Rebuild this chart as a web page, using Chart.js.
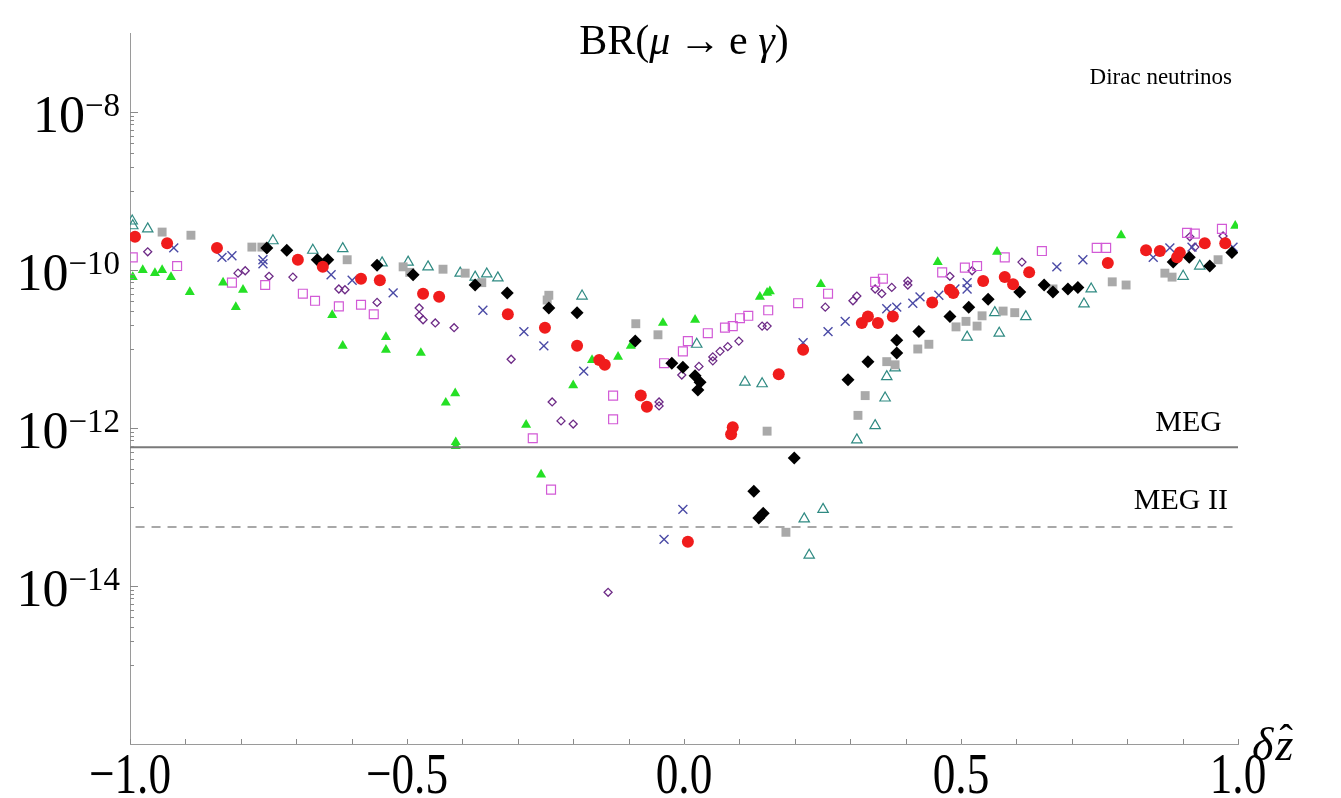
<!DOCTYPE html>
<html>
<head>
<meta charset="utf-8">
<script src="https://cdn.jsdelivr.net/npm/chart.js@4.4.1/dist/chart.umd.min.js"></script>
<style>
    html, body { margin: 0; padding: 0; background: #fff; }
</style>
</head>
<body>
<canvas id="grafico" width="1341" height="798"></canvas>
<script>
const ctx = document.getElementById('grafico');

// x = delta z hat, y = log10 BR(mu -> e gamma)
const redX = [-0.991,-0.933,-0.843,-0.697,-0.652,-0.583,-0.549,-0.471,-0.442,-0.318,-0.251,-0.193,-0.153,-0.143,-0.078,-0.067,0.007,0.085,0.088,0.171,0.215,0.321,0.332,0.350,0.377,0.448,0.480,0.486,0.540,0.579,0.594,0.623,0.765,0.834,0.859,0.890,0.895,0.940,0.977];
const redLog = [-9.58,-9.66,-9.72,-9.87,-9.96,-10.11,-10.13,-10.30,-10.34,-10.56,-10.73,-10.96,-11.14,-11.20,-11.59,-11.73,-13.44,-12.08,-11.99,-11.32,-11.01,-10.67,-10.59,-10.67,-10.59,-10.41,-10.25,-10.29,-10.14,-10.09,-10.18,-10.03,-9.91,-9.75,-9.76,-9.84,-9.78,-9.66,-9.66];

const blackX = [-0.753,-0.717,-0.662,-0.643,-0.554,-0.489,-0.377,-0.319,-0.244,-0.193,-0.088,-0.022,-0.002,0.020,0.029,0.025,0.126,0.135,0.143,0.199,0.296,0.332,0.384,0.384,0.424,0.480,0.514,0.549,0.606,0.650,0.666,0.693,0.711,0.883,0.912,0.949,0.989];
const blackLog = [-9.72,-9.75,-9.87,-9.87,-9.94,-10.06,-10.19,-10.29,-10.48,-10.54,-10.90,-11.18,-11.23,-11.34,-11.42,-11.52,-12.80,-13.14,-13.08,-12.38,-11.39,-11.16,-10.89,-11.05,-10.78,-10.59,-10.47,-10.37,-10.28,-10.19,-10.28,-10.24,-10.22,-9.90,-9.84,-9.95,-9.78];

const grayX = [-0.942,-0.890,-0.780,-0.762,-0.608,-0.507,-0.495,-0.435,-0.395,-0.365,-0.247,-0.244,-0.087,-0.047,0.150,0.184,0.314,0.327,0.366,0.381,0.422,0.442,0.491,0.509,0.529,0.538,0.576,0.597,0.666,0.773,0.798,0.868,0.881,0.964];
const grayLog = [-9.52,-9.56,-9.71,-9.71,-9.87,-9.96,-10.03,-9.99,-10.04,-10.16,-10.38,-10.32,-10.68,-10.82,-12.04,-13.32,-11.84,-11.59,-11.16,-11.20,-11.00,-10.94,-10.72,-10.65,-10.71,-10.58,-10.52,-10.54,-10.24,-10.15,-10.19,-10.04,-10.09,-9.87];

const greenX = [-0.995,-0.977,-0.955,-0.942,-0.926,-0.892,-0.832,-0.796,-0.809,-0.635,-0.616,-0.538,-0.538,-0.475,-0.430,-0.413,-0.412,-0.412,-0.285,-0.258,-0.200,-0.166,-0.119,-0.096,-0.038,0.020,0.137,0.150,0.155,0.247,0.458,0.565,0.789,0.995];
const greenLog = [-10.09,-10.00,-10.04,-10.00,-10.09,-10.28,-10.16,-10.25,-10.47,-10.57,-10.96,-10.85,-11.01,-11.05,-11.68,-11.56,-12.18,-12.23,-11.96,-12.59,-11.46,-11.14,-11.10,-10.96,-10.67,-10.63,-10.34,-10.29,-10.27,-10.18,-9.90,-9.77,-9.56,-9.44];

const tealX = [-0.996,-0.995,-0.968,-0.742,-0.670,-0.616,-0.545,-0.498,-0.462,-0.404,-0.377,-0.356,-0.336,-0.184,0.023,0.110,0.141,0.217,0.226,0.251,0.312,0.345,0.363,0.366,0.381,0.511,0.561,0.569,0.617,0.722,0.735,0.901,0.931];
const tealLog = [-9.38,-9.44,-9.48,-9.63,-9.75,-9.73,-9.91,-9.90,-9.96,-10.04,-10.09,-10.05,-10.10,-10.33,-10.94,-11.42,-11.44,-13.15,-13.61,-13.03,-12.15,-11.97,-11.62,-11.35,-11.24,-10.85,-10.54,-10.80,-10.59,-10.43,-10.24,-10.08,-9.95];

const blueX = [-0.921,-0.834,-0.816,-0.760,-0.760,-0.637,-0.599,-0.525,-0.363,-0.289,-0.253,-0.181,-0.036,-0.002,0.215,0.260,0.291,0.366,0.384,0.413,0.426,0.460,0.489,0.511,0.511,0.673,0.720,0.847,0.877,0.917,0.991];
const blueLog = [-9.72,-9.84,-9.82,-9.87,-9.92,-10.06,-10.13,-10.29,-10.51,-10.78,-10.96,-11.28,-13.41,-13.03,-10.92,-10.78,-10.65,-10.49,-10.47,-10.42,-10.34,-10.32,-10.24,-10.24,-10.16,-9.96,-9.87,-9.84,-9.72,-9.71,-9.71];

const magentaX = [-0.995,-0.915,-0.816,-0.756,-0.688,-0.666,-0.623,-0.583,-0.560,-0.273,-0.240,-0.128,-0.128,-0.036,-0.002,0.007,0.043,0.074,0.088,0.101,0.116,0.152,0.206,0.260,0.345,0.359,0.466,0.507,0.529,0.579,0.646,0.745,0.762,0.908,0.922,0.971];
const magentaLog = [-9.84,-9.95,-10.16,-10.19,-10.30,-10.39,-10.46,-10.44,-10.56,-12.13,-12.78,-11.59,-11.89,-11.18,-11.03,-10.90,-10.80,-10.73,-10.71,-10.61,-10.58,-10.51,-10.42,-10.30,-10.15,-10.11,-10.03,-9.97,-9.95,-9.84,-9.76,-9.72,-9.72,-9.53,-9.54,-9.48];

const purpleX = [-0.968,-0.805,-0.792,-0.749,-0.706,-0.623,-0.612,-0.554,-0.478,-0.478,-0.471,-0.449,-0.415,-0.312,-0.238,-0.222,-0.200,-0.137,-0.045,-0.045,-0.004,0.027,0.052,0.052,0.065,0.079,0.099,0.141,0.150,0.255,0.305,0.312,0.345,0.357,0.375,0.404,0.404,0.480,0.520,0.610,0.913,0.922,0.973];
const purpleLog = [-9.77,-10.04,-10.01,-10.08,-10.09,-10.24,-10.25,-10.41,-10.48,-10.58,-10.63,-10.67,-10.73,-11.13,-11.67,-11.91,-11.95,-14.08,-11.67,-11.72,-11.33,-11.22,-11.10,-11.15,-11.03,-10.97,-10.90,-10.71,-10.71,-10.47,-10.39,-10.33,-10.24,-10.30,-10.22,-10.14,-10.19,-10.08,-10.01,-9.90,-9.58,-9.71,-9.57];

// experimental bounds
const megLimit = 5.7e-13;
const megIILimit = 5.6e-14;

// axis ticks
const xLabelTicks = [-1.0, -0.5, 0.0, 0.5, 1.0];
const xMinorStep = 0.1;
const yLabelExponents = [-8, -10, -12, -14];

const pontos = (xs, logs) => xs.map((x, i) => ({ x: x, y: Math.pow(10, logs[i]) }));

const serif = '"Liberation Serif", "DejaVu Serif", serif';

const decoracao = {
    id: 'decoracao',
    afterDraw: (chart) => {
        const c = chart.ctx;
        const x = chart.scales.x;
        const y = chart.scales.y;
        const area = chart.chartArea;
        c.save();

        // tick marks, drawn inwards like the original
        c.strokeStyle = '#8a8a8a';
        c.lineWidth = 1;
        for (let i = 0; i <= 20; i++) {
            const px = Math.round(x.getPixelForValue(-1 + i * xMinorStep)) + 0.5;
            c.beginPath();
            c.moveTo(px, area.bottom);
            c.lineTo(px, area.bottom - 5);
            c.stroke();
        }
        yLabelExponents.forEach(e => {
            for (let k = 1; k <= 10; k++) {
                const v = k * Math.pow(10, e - 1);
                const py = Math.round(y.getPixelForValue(v)) + 0.5;
                c.beginPath();
                c.moveTo(area.left, py);
                c.lineTo(area.left + (k == 10 ? 8 : 4), py);
                c.stroke();
            }
        });

        // y labels 10^n
        c.fillStyle = '#000';
        c.textBaseline = 'alphabetic';
        yLabelExponents.forEach(e => {
            const py = y.getPixelForValue(Math.pow(10, e));
            c.textAlign = 'right';
            c.font = '33px ' + serif;
            const sup = '\u2212' + Math.abs(e);
            c.fillText(sup, 120, py + 4);
            const w = c.measureText(sup).width;
            c.font = '52px ' + serif;
            c.fillText('10', 120 - w, py + 20);
        });

        // x labels, narrow like the original
        c.font = '58px ' + serif;
        c.textAlign = 'center';
        xLabelTicks.forEach(v => {
            const px = x.getPixelForValue(v);
            const txt = (v < 0 ? '\u2212' : '') + Math.abs(v).toFixed(1);
            c.save();
            c.translate(px, 793);
            c.scale(0.78, 1);
            c.fillText(txt, 0, 0);
            c.restore();
        });

        // axis label
        c.font = 'italic 46px ' + serif;
        c.textAlign = 'left';
        c.fillText('\u03b4', 1252, 760);
        const dw = c.measureText('\u03b4').width;
        c.fillText('z', 1252 + dw + 2, 760);
        c.font = '40px ' + serif;
        c.fillText('\u02c6', 1252 + dw + 6, 760 - 8);

        // title BR(mu -> e gamma)
        const partes = [
            ['BR(', ''], ['\u03bc', 'italic '], ['\u2009\u2192\u2009e ', ''], ['\u03b3', 'italic '], [')', '']
        ];
        let total = 0;
        partes.forEach(p => { c.font = p[1] + '42px ' + serif; total += c.measureText(p[0]).width; });
        let cx = 684 - total / 2;
        c.textAlign = 'left';
        partes.forEach(p => {
            c.font = p[1] + '42px ' + serif;
            c.fillText(p[0], cx, 54);
            cx += c.measureText(p[0]).width;
        });

        // annotations
        c.textAlign = 'right';
        c.font = '23px ' + serif;
        c.fillText('Dirac neutrinos', 1232, 84);
        c.font = '30px ' + serif;
        c.fillText('MEG', 1222, 431);
        c.fillText('MEG II', 1228, 509);

        c.restore();
    }
};

new Chart(ctx, {
    type: 'scatter',
    data: {
        datasets: [
            {
                label: 'MEG',
                data: [{ x: -1, y: megLimit }, { x: 1, y: megLimit }],
                showLine: true,
                borderColor: '#7a7a7a',
                borderWidth: 2,
                pointRadius: 0,
            },
            {
                label: 'MEG II',
                data: [{ x: -0.99, y: megIILimit }, { x: 1, y: megIILimit }],
                showLine: true,
                borderColor: '#a8a8a8',
                borderWidth: 2,
                borderDash: [9, 7],
                pointRadius: 0,
            },
            {
                data: pontos(redX, redLog),
                pointStyle: 'circle',
                pointRadius: 6,
                backgroundColor: '#f01c1c',
                borderColor: '#f01c1c',
                borderWidth: 0,
            },
            {
                data: pontos(blackX, blackLog),
                pointStyle: 'rectRot',
                pointRadius: 6.5,
                backgroundColor: '#000',
                borderColor: '#000',
                borderWidth: 0,
            },
            {
                data: pontos(grayX, grayLog),
                pointStyle: 'rect',
                pointRadius: 6.3,
                backgroundColor: '#a9a9a9',
                borderColor: '#a9a9a9',
                borderWidth: 0,
            },
            {
                data: pontos(greenX, greenLog),
                pointStyle: 'triangle',
                pointRadius: 5.8,
                backgroundColor: '#25e025',
                borderColor: '#25e025',
                borderWidth: 0,
            },
            {
                data: pontos(tealX, tealLog),
                pointStyle: 'triangle',
                pointRadius: 6,
                backgroundColor: 'rgba(0,0,0,0)',
                borderColor: '#2f8a82',
                borderWidth: 1.2,
            },
            {
                data: pontos(blueX, blueLog),
                pointStyle: 'crossRot',
                pointRadius: 6.3,
                backgroundColor: 'rgba(0,0,0,0)',
                borderColor: '#4b4ba6',
                borderWidth: 1.4,
            },
            {
                data: pontos(magentaX, magentaLog),
                pointStyle: 'rect',
                pointRadius: 6.3,
                backgroundColor: 'rgba(0,0,0,0)',
                borderColor: '#d25ad6',
                borderWidth: 1.2,
            },
            {
                data: pontos(purpleX, purpleLog),
                pointStyle: 'rectRot',
                pointRadius: 4,
                backgroundColor: 'rgba(0,0,0,0)',
                borderColor: '#6d2a86',
                borderWidth: 1.3,
            },
        ],
    },
    options: {
        responsive: false,
        animation: false,
        layout: {
            padding: { left: 130, right: 103, top: 33, bottom: 54 }
        },
        plugins: {
            legend: { display: false },
            tooltip: { enabled: false },
        },
        scales: {
            x: {
                type: 'linear',
                min: -1,
                max: 1,
                grid: { display: false, drawTicks: false },
                ticks: { display: false },
                border: { display: true, color: '#9a9a9a', width: 1 },
            },
            y: {
                type: 'logarithmic',
                min: 1e-16,
                max: 1e-7,
                grid: { display: false, drawTicks: false },
                ticks: { display: false },
                border: { display: true, color: '#9a9a9a', width: 1 },
            },
        },
    },
    plugins: [decoracao],
});
</script>
</body>
</html>
